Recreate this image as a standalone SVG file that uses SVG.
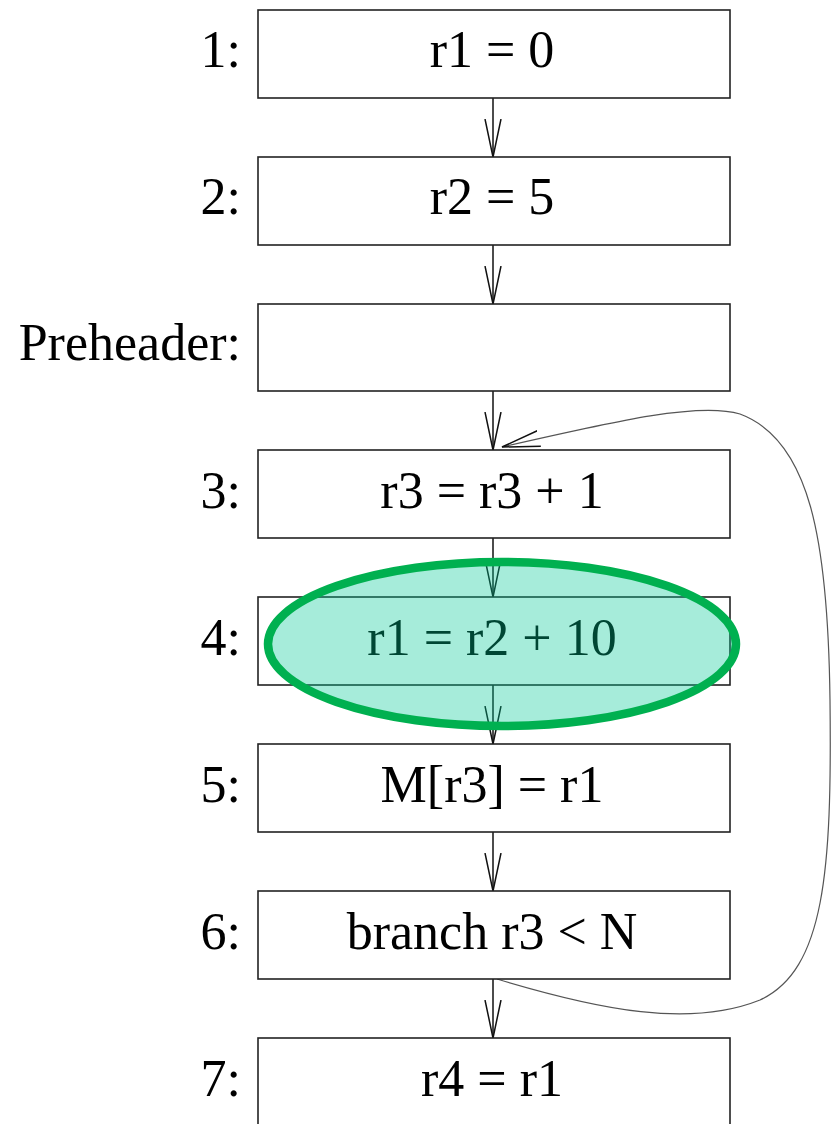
<svg xmlns="http://www.w3.org/2000/svg" width="831" height="1124" viewBox="0 0 831 1124">
<style>
.box{fill:#fff;stroke:#222;stroke-width:1.6}
.t{font-family:"Liberation Serif","Times New Roman",serif;font-size:52px;fill:#000}
.c{text-anchor:middle}
.l{text-anchor:end}
.e{fill:none;stroke:#111;stroke-width:1.5}
.back{fill:none;stroke:#555;stroke-width:1.2}
</style>
<defs>
<marker id="ah" markerWidth="44" markerHeight="24" refX="38" refY="12" orient="auto" markerUnits="userSpaceOnUse">
<path d="M0,4 L38,12 L0,20" fill="none" stroke="#111" stroke-width="1.5"/>
</marker>
</defs>
<rect width="831" height="1124" fill="#fff"/>
<g id="connectors">
<line class="e" x1="493" y1="98" x2="493" y2="157" marker-end="url(#ah)"/>
<line class="e" x1="493" y1="245" x2="493" y2="304" marker-end="url(#ah)"/>
<line class="e" x1="493" y1="391" x2="493" y2="450" marker-end="url(#ah)"/>
<line class="e" x1="493" y1="538" x2="493" y2="597" marker-end="url(#ah)"/>
<line class="e" x1="493" y1="685" x2="493" y2="744" marker-end="url(#ah)"/>
<line class="e" x1="493" y1="832" x2="493" y2="891" marker-end="url(#ah)"/>
<line class="e" x1="493" y1="979" x2="493" y2="1038" marker-end="url(#ah)"/>
<path class="back" d="M497,979 C600,1010 690,1028 760,1000 C825,970 832,870 830,700 C828,540 810,440 740,414 C700,402 620,420 502,447" marker-end="url(#ah)"/>
</g>
<g id="n1"><rect class="box" x="258" y="10" width="472" height="88"/><text class="t c" x="492" y="67">r1 = 0</text><text class="t l" x="241" y="67">1:</text></g>
<g id="n2"><rect class="box" x="258" y="157" width="472" height="88"/><text class="t c" x="492" y="214">r2 = 5</text><text class="t l" x="241" y="214">2:</text></g>
<g id="npre"><rect class="box" x="258" y="304" width="472" height="87"/><text class="t l" x="241" y="360">Preheader:</text></g>
<g id="n3"><rect class="box" x="258" y="450" width="472" height="88"/><text class="t c" x="492" y="508">r3 = r3 + 1</text><text class="t l" x="241" y="508">3:</text></g>
<g id="n4"><rect class="box" x="258" y="597" width="472" height="88"/><text class="t c" x="492" y="655">r1 = r2 + 10</text><text class="t l" x="241" y="655">4:</text></g>
<g id="n5"><rect class="box" x="258" y="744" width="472" height="88"/><text class="t c" x="492" y="802">M[r3] = r1</text><text class="t l" x="241" y="802">5:</text></g>
<g id="n6"><rect class="box" x="258" y="891" width="472" height="88"/><text class="t c" x="492" y="949">branch r3 &lt; N</text><text class="t l" x="241" y="949">6:</text></g>
<g id="n7"><rect class="box" x="258" y="1038" width="472" height="100"/><text class="t c" x="492" y="1096">r4 = r1</text><text class="t l" x="241" y="1096">7:</text></g>
<g id="highlight"><ellipse cx="502" cy="644" rx="234" ry="82" fill="#00c896" fill-opacity="0.35" stroke="#00b050" stroke-width="8.5"/></g>
</svg>
